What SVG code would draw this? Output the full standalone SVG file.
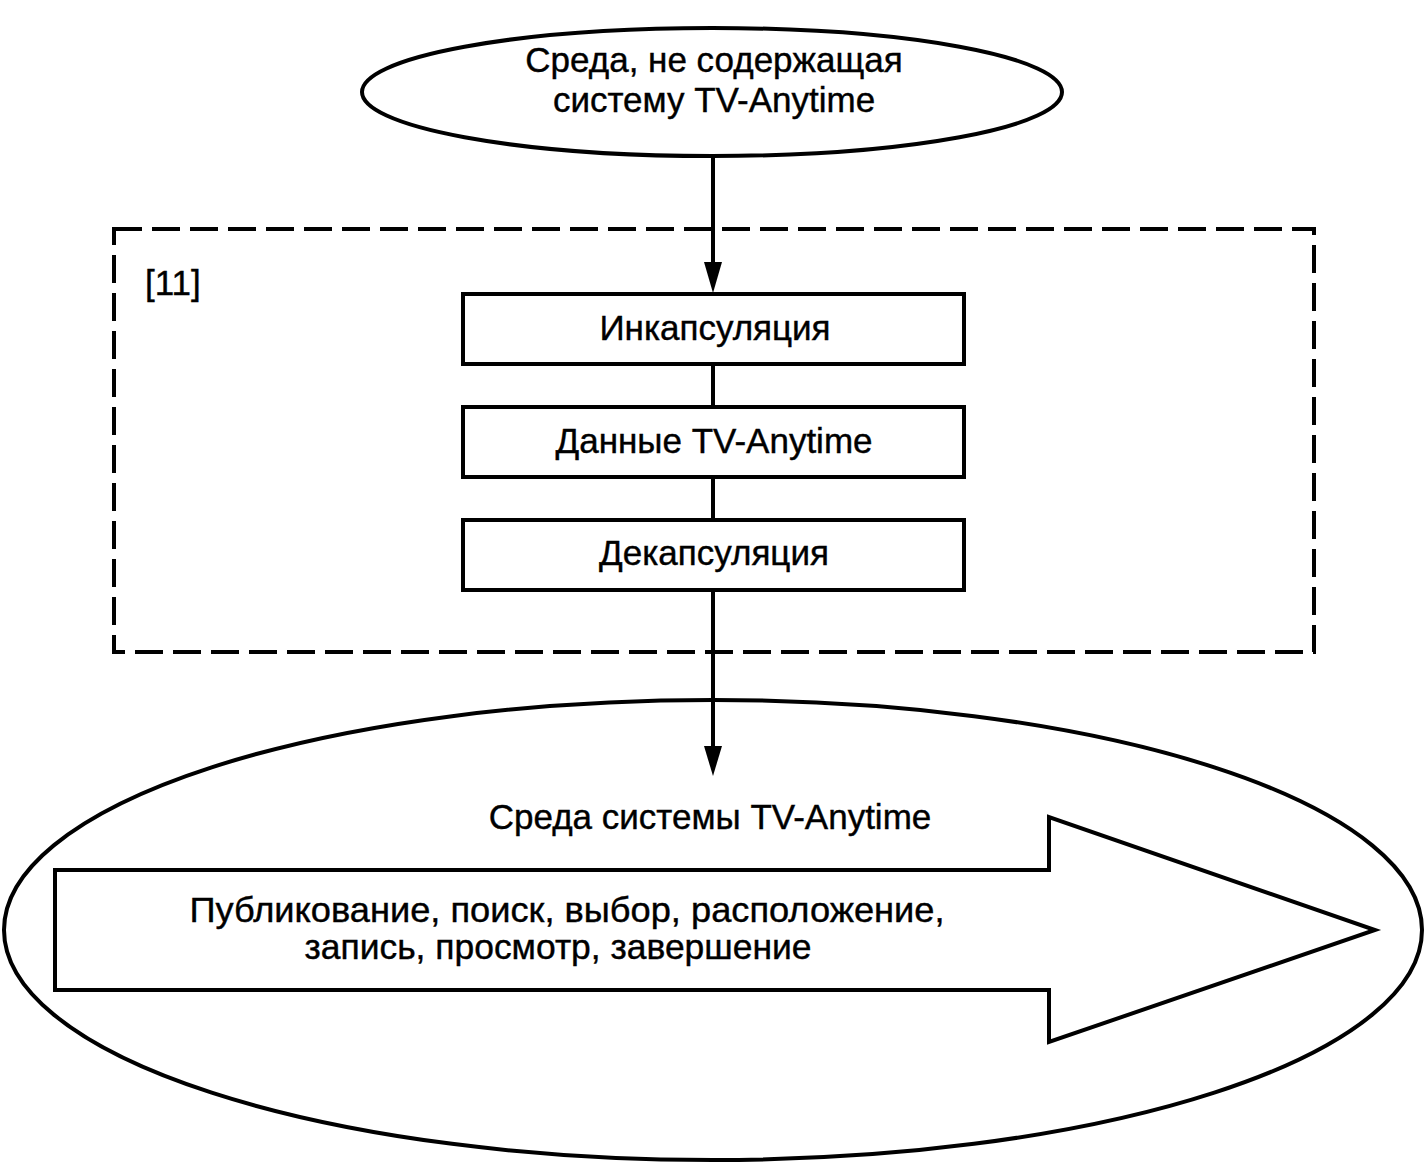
<svg xmlns="http://www.w3.org/2000/svg" width="1427" height="1166" viewBox="0 0 1427 1166">
<style>
.s{fill:none;stroke:#000;stroke-width:4}
.b{fill:#fff;stroke:#000;stroke-width:4}
.t{font-family:"Liberation Sans",Arial,sans-serif;font-size:35px;fill:#000;stroke:#000;stroke-width:0.4;text-anchor:middle}
.l{font-family:"Liberation Sans",Arial,sans-serif;font-size:35px;fill:#000;stroke:#000;stroke-width:0.4}
</style>
<rect id="group11" x="114" y="229" width="1200" height="423" fill="none" stroke="#000" stroke-width="4" stroke-dasharray="28,10"/>
<text class="l" x="145" y="295">[11]</text>
<g id="env-non">
<ellipse cx="712" cy="92" rx="350" ry="64" class="b"/>
<text class="t" x="714" y="72">Среда, не содержащая</text>
<text class="t" x="714" y="112">систему TV-Anytime</text>
</g>
<g id="env-tva">
<ellipse cx="713" cy="930" rx="709" ry="230" class="b"/>
<text class="t" x="710" y="829">Среда системы TV-Anytime</text>
</g>
<g id="process-arrow">
<polygon points="55,870 1049,870 1049,817 1375,930 1049,1042 1049,990 55,990" class="b"/>
<text class="t" x="567" y="922" textLength="755" lengthAdjust="spacingAndGlyphs">Публикование, поиск, выбор, расположение,</text>
<text class="t" x="558" y="959" textLength="507" lengthAdjust="spacingAndGlyphs">запись, просмотр, завершение</text>
</g>
<g id="connectors">
<line x1="713" y1="157" x2="713" y2="270" class="s"/>
<path d="M704,262 L722,262 L713,293 Z" fill="#000"/>
<line x1="713" y1="364" x2="713" y2="407" class="s"/>
<line x1="713" y1="477" x2="713" y2="520" class="s"/>
<line x1="713" y1="590" x2="713" y2="760" class="s"/>
<path d="M704,746 L722,746 L713,776 Z" fill="#000"/>
</g>
<g id="encap">
<rect x="463" y="294" width="501" height="70" class="b"/>
<text class="t" x="715" y="340">Инкапсуляция</text>
</g>
<g id="data">
<rect x="463" y="407" width="501" height="70" class="b"/>
<text class="t" x="714" y="453">Данные TV-Anytime</text>
</g>
<g id="decap">
<rect x="463" y="520" width="501" height="70" class="b"/>
<text class="t" x="714" y="565">Декапсуляция</text>
</g>
</svg>
